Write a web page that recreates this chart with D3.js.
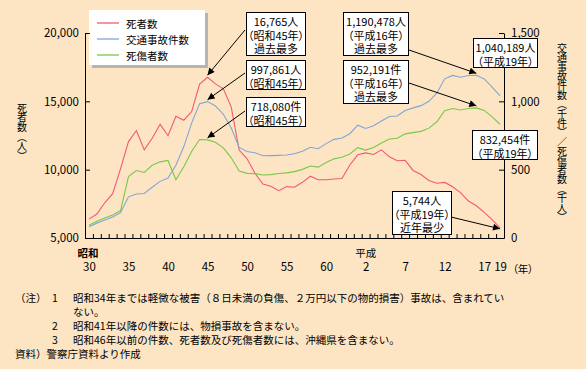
<!DOCTYPE html>
<html>
<head>
<meta charset="utf-8">
<script src="https://cdn.jsdelivr.net/npm/d3@7"></script>
<style>
body { margin: 0; background: #fde5c4; }
svg text { font-family: "Noto Sans CJK JP", sans-serif; fill: #000; }
.palt { font-feature-settings: "palt"; }
</style>
</head>
<body>
<svg></svg>
<script>
// 年（西暦）
const years = d3.range(1955, 2008)

// 死者数（人）
const deaths = [6379, 6751, 7575, 8248, 10079, 12055, 12865, 11445, 12301, 13318,
  12484, 13904, 13618, 14256, 16257, 16765, 16278, 15918, 14574, 11432,
  10792, 9734, 8945, 8783, 8466, 8760, 8719, 9073, 9520, 9262,
  9261, 9317, 9347, 10344, 11086, 11227, 11109, 11452, 10942, 10649,
  10684, 9942, 9640, 9211, 9006, 9066, 8747, 8326, 7702, 7358,
  6871, 6352, 5744]

// 死傷者数（人） 青い線
const casualties = [82880, 108823, 132105, 153680, 186030, 301211, 321562, 325258, 371390, 414435,
  438150, 531679, 668995, 842327, 983257, 997861, 965967, 905116, 804522, 662852,
  633259, 623691, 602156, 602899, 604748, 607479, 616065, 635265, 664342, 653583,
  690607, 721647, 731526, 763189, 825918, 801522, 821354, 855455, 889575, 892372,
  933361, 952146, 968565, 999886, 1059405, 1164773, 1189786, 1176355, 1189383, 1190478,
  1163984, 1104551, 1040189]

// 交通事故件数（件） 緑の線
const accidents = [93981, 122691, 146833, 168799, 201292, 449917, 493693, 479825, 531966, 557183,
  567286, 425944, 521481, 635056, 720880, 718080, 700290, 659283, 586713, 490452,
  472938, 471041, 460649, 464037, 471573, 476677, 485578, 502261, 526362, 518642,
  552788, 579190, 590723, 614481, 661363, 643097, 662392, 695345, 724675, 729461,
  761794, 771085, 780399, 803882, 850363, 931934, 947253, 936721, 947993, 952191,
  933828, 886864, 832454]

const leftTicks = [5000, 10000, 15000, 20000]
const rightTicks = [0, 500000, 1000000, 1500000]
const yearLabels = [1955, 1960, 1965, 1970, 1975, 1980, 1985, 1990, 1995, 2000, 2005, 2007]

const legendNames = ['死者数', '交通事故件数', '死傷者数']

// 吹き出し
const calloutText = [
  ['16,765人', '（昭和45年）', '過去最多'],
  ['997,861人', '（昭和45年）'],
  ['718,080件', '（昭和45年）'],
  ['1,190,478人', '（平成16年）', '過去最多'],
  ['952,191件', '（平成16年）', '過去最多'],
  ['1,040,189人', '（平成19年）'],
  ['832,454件', '（平成19年）'],
  ['5,744人', '（平成19年）', '近年最少']
]
const calloutYear = [1970, 1970, 1970, 2004, 2004, 2007, 2007, 2007]
const calloutValue = [16765, 997861, 718080, 1190478, 952191, 1040189, 832454, 5744]
const calloutAxis = ['left', 'right', 'right', 'right', 'right', 'right', 'right', 'left']

const notes = [
  ['（注）', '1', '昭和34年までは軽微な被害（８日未満の負傷、２万円以下の物的損害）事故は、含まれてい'],
  ['', '', 'ない。'],
  ['', '2', '昭和41年以降の件数には、物損事故を含まない。'],
  ['', '3', '昭和46年以前の件数、死者数及び死傷者数には、沖縄県を含まない。'],
  ['資料）警察庁資料より作成', '', '']
]

let width = 586
let height = 369

const colors = ['#f25a72', '#80a6d6', '#78c84a']

let svg = d3.select('svg').attr('width', width).attr('height', height)

svg.append('rect').attr('width', width).attr('height', height).attr('fill', '#fde5c4')

svg.append('defs').append('marker')
   .attr('id', 'arrow')
   .attr('viewBox', '0 0 10 10')
   .attr('refX', 10).attr('refY', 5)
   .attr('markerWidth', 8).attr('markerHeight', 7)
   .attr('markerUnits', 'userSpaceOnUse')
   .attr('orient', 'auto')
   .append('path').attr('d', 'M0,0 L10,5 L0,10 z').attr('fill', '#000')

// スケール
const xScale = d3.scaleLinear().domain([1954.5, 2007.5]).range([85, 504])
const yLeft = d3.scaleLinear().domain([5000, 20000]).range([238, 33])
const yRight = d3.scaleLinear().domain([0, 1500000]).range([238, 33])

// 凡例
svg.append('rect').attr('x', 92).attr('y', 13).attr('width', 116).attr('height', 55).attr('fill', '#b4b4b4')
svg.append('rect').attr('x', 89).attr('y', 10).attr('width', 116).attr('height', 55).attr('fill', '#fff')
legendNames.forEach((name, i) => {
    let ly = 23 + i * 16
    svg.append('line').attr('x1', 97).attr('x2', 119).attr('y1', ly).attr('y2', ly)
       .attr('stroke', colors[i]).attr('stroke-width', 1.3)
    svg.append('text').attr('x', 126).attr('y', ly).attr('dominant-baseline', 'central')
       .style('font-size', '10.5px').text(name)
})

// 線
const lineOf = (values, scale) => d3.line()
    .x((d, i) => xScale(years[i]))
    .y(d => scale(d))(values)

const series = [[deaths, yLeft], [casualties, yRight], [accidents, yRight]]
series.forEach(([values, scale], i) => {
    svg.append('path')
       .attr('d', lineOf(values, scale))
       .attr('fill', 'none')
       .attr('stroke', colors[i])
       .attr('stroke-width', 1.1)
})

// 軸
const leftAxis = d3.axisLeft(yLeft).tickValues(leftTicks).tickSize(-5).tickSizeOuter(0)
    .tickPadding(6).tickFormat(d3.format(','))
svg.append('g').attr('transform', 'translate(85,0)').call(leftAxis)

const rightAxis = d3.axisRight(yRight).tickValues(rightTicks).tickSize(-5).tickSizeOuter(0)
    .tickPadding(7).tickFormat(d => d3.format(',')(d / 1000))
svg.append('g').attr('transform', 'translate(504,0)').call(rightAxis)

const xAxis = d3.axisBottom(xScale).tickValues(d3.range(1955.5, 2007, 1)).tickSize(-4)
    .tickSizeOuter(0).tickFormat('')
svg.append('g').attr('transform', 'translate(0,238)').call(xAxis)

const xLabels = d3.axisBottom(xScale).tickValues(yearLabels).tickSize(0).tickPadding(25)
    .tickFormat(y => y < 1989 ? y - 1925 : y - 1988)
let xl = svg.append('g').attr('transform', 'translate(0,238)').call(xLabels)
xl.select('.domain').remove()

svg.selectAll('.tick text').style('font-size', '11.5px').attr('fill', '#000')
svg.selectAll('.domain, .tick line').attr('stroke', '#000').attr('stroke-width', 1)

svg.append('text').attr('x', xScale(1955) - 1).attr('y', 252).attr('text-anchor', 'middle')
   .attr('dominant-baseline', 'central').style('font-size', '10.5px').style('font-weight', 'bold').text('昭和')
svg.append('text').attr('x', xScale(1990)).attr('y', 252).attr('text-anchor', 'middle')
   .attr('dominant-baseline', 'central').style('font-size', '10.5px').text('平成')
svg.append('text').attr('class', 'palt').attr('x', 523).attr('y', 268).attr('text-anchor', 'middle')
   .attr('dominant-baseline', 'central').style('font-size', '10.5px').text('（年）')

// 縦書きの軸タイトル
svg.append('text').attr('x', 22).attr('y', 103)
   .style('writing-mode', 'vertical-rl').style('font-size', '10px').style('letter-spacing', '-0.4px')
   .text('死者数（人）')
svg.append('text').attr('x', 562).attr('y', 43)
   .style('writing-mode', 'vertical-rl').style('font-size', '10px').style('letter-spacing', '-0.6px')
   .text('交通事故件数（千件）／死傷者数（千人）')

// 吹き出しの配置
const boxes = [
    {x: 246, y: 12, w: 59, from: [245, 30], dy: -2},
    {x: 246, y: 60, w: 59, from: [245, 73], dy: -2},
    {x: 246, y: 97, w: 59, from: [245, 111], dy: -2},
    {x: 343, y: 12, w: 65, from: [409, 50], dy: -2},
    {x: 343, y: 60, w: 65, from: [409, 83], dy: -2},
    {x: 473, y: 38, w: 64, from: null},
    {x: 472, y: 130, w: 65, from: null},
    {x: 392, y: 191, w: 59, from: [451, 217], dy: 1}
]

calloutText.forEach((lines, i) => {
    let b = boxes[i]
    let scale = calloutAxis[i] === 'left' ? yLeft : yRight
    if (b.from) {
        svg.append('line')
           .attr('x1', b.from[0]).attr('y1', b.from[1])
           .attr('x2', xScale(calloutYear[i])).attr('y2', scale(calloutValue[i]) + b.dy)
           .attr('stroke', '#000').attr('stroke-width', 1)
           .attr('marker-end', 'url(#arrow)')
    }
    svg.append('rect').attr('x', b.x + 0.5).attr('y', b.y + 0.5)
       .attr('width', b.w).attr('height', lines.length * 14 + 1)
       .attr('fill', '#fff').attr('stroke', '#000').attr('stroke-width', 1)
    lines.forEach((t, j) => {
        svg.append('text').attr('class', 'palt')
           .attr('x', b.x + b.w / 2 + 0.5).attr('y', b.y + 9 + j * 13.6)
           .attr('text-anchor', 'middle').attr('dominant-baseline', 'central')
           .style('font-size', '11px').text(t)
    })
})

// 注記
notes.forEach((row, i) => {
    let ny = 297 + i * 14
    svg.append('text').attr('x', 15).attr('y', ny).attr('dominant-baseline', 'central')
       .style('font-size', '10.5px').text(row[0])
    svg.append('text').attr('x', 52).attr('y', ny).attr('dominant-baseline', 'central')
       .style('font-size', '10.5px').text(row[1])
    svg.append('text').attr('x', 73).attr('y', ny).attr('dominant-baseline', 'central')
       .style('font-size', '10.5px').text(row[2])
})
</script>
</body>
</html>
